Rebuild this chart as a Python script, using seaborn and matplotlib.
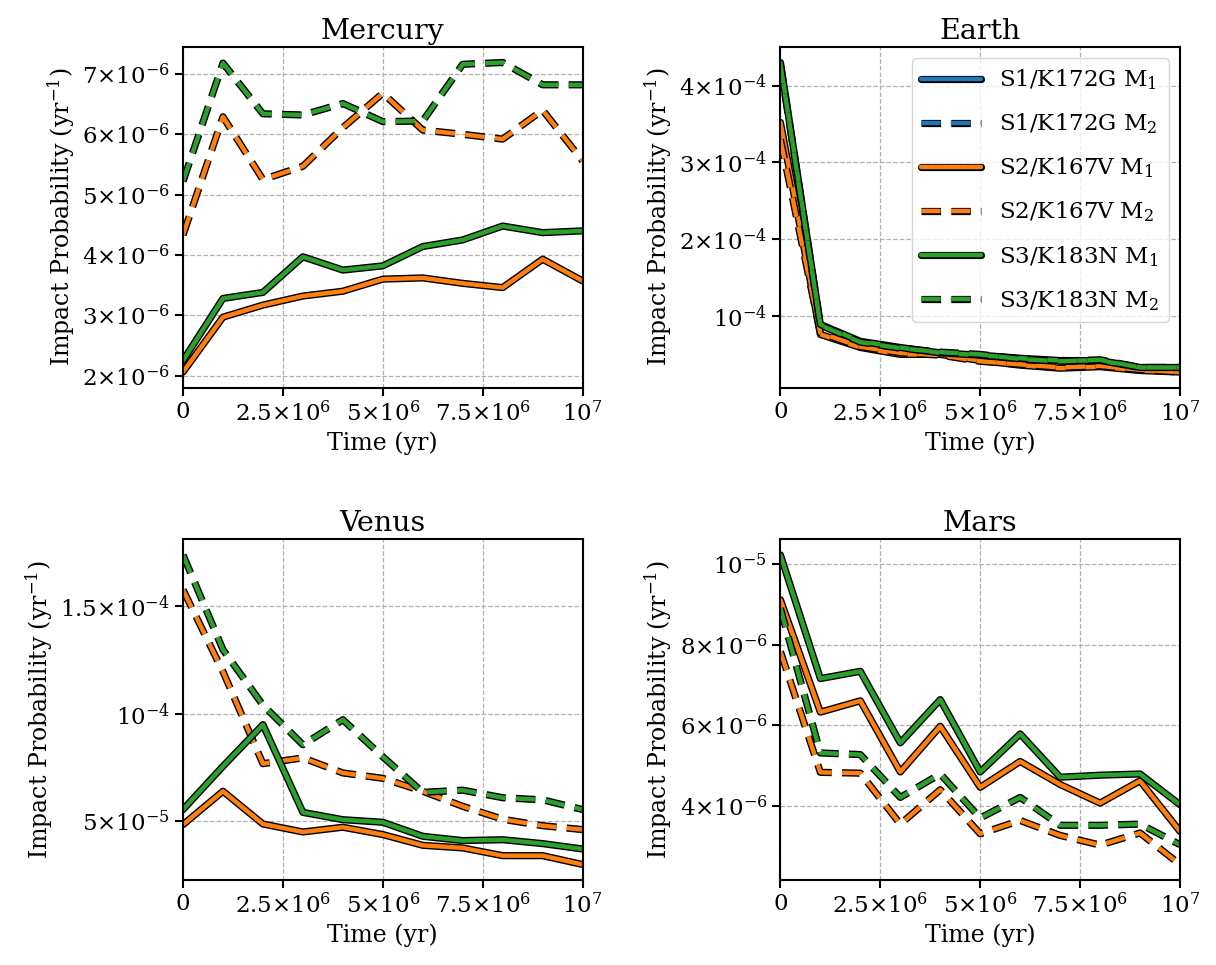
import numpy as np
import pandas as pd
import matplotlib
matplotlib.use("Agg")
import matplotlib.pyplot as plt
import matplotlib.patheffects as pe
from matplotlib.lines import Line2D
from matplotlib.ticker import FuncFormatter, MultipleLocator
import seaborn as sns

# === данные ===
time = [0, 1e6, 2e6, 3e6, 4e6, 5e6, 6e6, 7e6, 8e6, 9e6, 1e7]

strains = ["S1/K172G", "S2/K167V", "S3/K183N"]
models = ["M$_1$", "M$_2$"]

# Mercury
mercury_s2_m1 = [2.06e-6, 2.97e-6, 3.17e-6, 3.32e-6, 3.40e-6, 3.60e-6, 3.62e-6, 3.53e-6, 3.46e-6, 3.93e-6, 3.57e-6]
mercury_s2_m2 = [4.33e-6, 6.29e-6, 5.25e-6, 5.47e-6, 6.11e-6, 6.68e-6, 6.07e-6, 6.00e-6, 5.92e-6, 6.40e-6, 5.56e-6]
mercury_s3_m1 = [2.25e-6, 3.28e-6, 3.38e-6, 3.97e-6, 3.75e-6, 3.82e-6, 4.14e-6, 4.25e-6, 4.48e-6, 4.37e-6, 4.40e-6]
mercury_s3_m2 = [5.22e-6, 7.18e-6, 6.34e-6, 6.32e-6, 6.51e-6, 6.21e-6, 6.22e-6, 7.16e-6, 7.19e-6, 6.82e-6, 6.82e-6]

# Earth
earth_s2_m1 = [3.52e-4, 0.76e-4, 0.59e-4, 0.50e-4, 0.50e-4, 0.42e-4, 0.36e-4, 0.32e-4, 0.34e-4, 0.29e-4, 0.27e-4]
earth_s2_m2 = [3.30e-4, 0.78e-4, 0.60e-4, 0.52e-4, 0.49e-4, 0.41e-4, 0.37e-4, 0.33e-4, 0.35e-4, 0.30e-4, 0.27e-4]
earth_s3_m1 = [4.30e-4, 0.89e-4, 0.67e-4, 0.59e-4, 0.52e-4, 0.49e-4, 0.45e-4, 0.42e-4, 0.42e-4, 0.33e-4, 0.33e-4]
earth_s3_m2 = [4.28e-4, 0.88e-4, 0.66e-4, 0.58e-4, 0.53e-4, 0.50e-4, 0.44e-4, 0.41e-4, 0.43e-4, 0.33e-4, 0.33e-4]

# Venus
venus_s2_m1 = [0.485e-4, 0.640e-4, 0.488e-4, 0.451e-4, 0.473e-4, 0.439e-4, 0.389e-4, 0.377e-4, 0.341e-4, 0.341e-4, 0.300e-4]
venus_s2_m2 = [1.575e-4, 1.195e-4, 0.768e-4, 0.795e-4, 0.725e-4, 0.700e-4, 0.640e-4, 0.570e-4, 0.510e-4, 0.480e-4, 0.462e-4]
venus_s3_m1 = [0.555e-4, 0.756e-4, 0.949e-4, 0.542e-4, 0.508e-4, 0.496e-4, 0.431e-4, 0.411e-4, 0.415e-4, 0.397e-4, 0.372e-4]
venus_s3_m2 = [1.737e-4, 1.297e-4, 1.040e-4, 0.856e-4, 0.972e-4, 0.800e-4, 0.635e-4, 0.645e-4, 0.610e-4, 0.600e-4, 0.555e-4]

# Mars
mars_s2_m1 = [9.11e-6, 6.33e-6, 6.61e-6, 4.85e-6, 5.98e-6, 4.47e-6, 5.11e-6, 4.54e-6, 4.08e-6, 4.63e-6, 3.38e-6]
mars_s2_m2 = [7.83e-6, 4.84e-6, 4.82e-6, 3.56e-6, 4.41e-6, 3.32e-6, 3.65e-6, 3.28e-6, 3.04e-6, 3.34e-6, 2.56e-6]
mars_s3_m1 = [10.22e-6, 7.16e-6, 7.34e-6, 5.57e-6, 6.64e-6, 4.85e-6, 5.79e-6, 4.72e-6, 4.77e-6, 4.80e-6, 4.04e-6]
mars_s3_m2 = [8.90e-6, 5.32e-6, 5.28e-6, 4.22e-6, 4.80e-6, 3.71e-6, 4.22e-6, 3.53e-6, 3.53e-6, 3.56e-6, 3.05e-6]

# S1 не видна ни на одной панели
planets = {
    "Mercury": {"S2/K167V": (mercury_s2_m1, mercury_s2_m2), "S3/K183N": (mercury_s3_m1, mercury_s3_m2)},
    "Earth": {"S2/K167V": (earth_s2_m1, earth_s2_m2), "S3/K183N": (earth_s3_m1, earth_s3_m2)},
    "Venus": {"S2/K167V": (venus_s2_m1, venus_s2_m2), "S3/K183N": (venus_s3_m1, venus_s3_m2)},
    "Mars": {"S2/K167V": (mars_s2_m1, mars_s2_m2), "S3/K183N": (mars_s3_m1, mars_s3_m2)},
}
y_steps = {"Mercury": 1e-6, "Earth": 1e-4, "Venus": 5e-5, "Mars": 2e-6}

# === стиль ===
sns.set_style("ticks")
plt.rcParams["font.family"] = ["DejaVu Serif"]
plt.rcParams["mathtext.fontset"] = "dejavuserif"
plt.rcParams["text.color"] = "black"
plt.rcParams["axes.labelcolor"] = "black"
plt.rcParams["axes.edgecolor"] = "black"
plt.rcParams["xtick.color"] = "black"
plt.rcParams["ytick.color"] = "black"
plt.rcParams["axes.linewidth"] = 1.5
plt.rcParams["xtick.major.width"] = 1.5
plt.rcParams["ytick.major.width"] = 1.5
plt.rcParams["xtick.major.size"] = 6
plt.rcParams["ytick.major.size"] = 6

colors = dict(zip(strains, ["#1f77b4", "#ff7f0e", "#2ca02c"]))
styles = ["-", (0, (4.4, 2.3))]
outline = [pe.Stroke(linewidth=5.2, foreground="black"), pe.Normal()]


def sci_fmt(v, pos):
    if abs(v) < 1e-30:
        return "0"
    e = int(np.floor(np.log10(abs(v)) + 1e-9))
    m = v / 10 ** e
    if abs(m - 1) < 1e-6:
        return r"$10^{%d}$" % e
    return r"$%g{\times}10^{%d}$" % (round(m, 3), e)


fig, axes = plt.subplots(2, 2, figsize=(12.16, 9.65), dpi=100)
plt.subplots_adjust(left=0.1505, right=0.9704, top=0.9513, bottom=0.0881, wspace=0.495, hspace=0.446)

for ax, (planet, series) in zip(axes.flat, planets.items()):
    for strain in strains:
        if strain not in series:
            continue
        for vals, ls in zip(series[strain], styles):
            sns.lineplot(x=time, y=vals, ax=ax, color=colors[strain], linestyle=ls,
                         linewidth=3.2, path_effects=outline, legend=False)
    ax.set_title(planet, fontsize=20.5)
    ax.set_xlabel("Time (yr)", fontsize=17)
    ax.set_ylabel("Impact Probability (yr$^{-1}$)", fontsize=17)
    ax.set_xlim(0, 1e7)
    ax.xaxis.set_major_locator(MultipleLocator(2.5e6))
    ax.yaxis.set_major_locator(MultipleLocator(y_steps[planet]))
    ax.xaxis.set_major_formatter(FuncFormatter(sci_fmt))
    ax.yaxis.set_major_formatter(FuncFormatter(sci_fmt))
    ax.tick_params(labelsize=16.5)
    ax.grid(True, linestyle="--", color="#b0b0b0", linewidth=0.9)
    ax.set_axisbelow(True)

# легенда на панели Earth
handles = []
labels = []
for strain in strains:
    for model, ls in zip(models, styles):
        handles.append(Line2D([], [], color=colors[strain], linestyle=ls, linewidth=3.2, path_effects=outline))
        labels.append(f"{strain} {model}")
axes[0, 1].legend(handles, labels, loc="upper right", fontsize=16.5, handlelength=2.6, labelspacing=0.85)

plt.savefig("out.png", dpi=100)
